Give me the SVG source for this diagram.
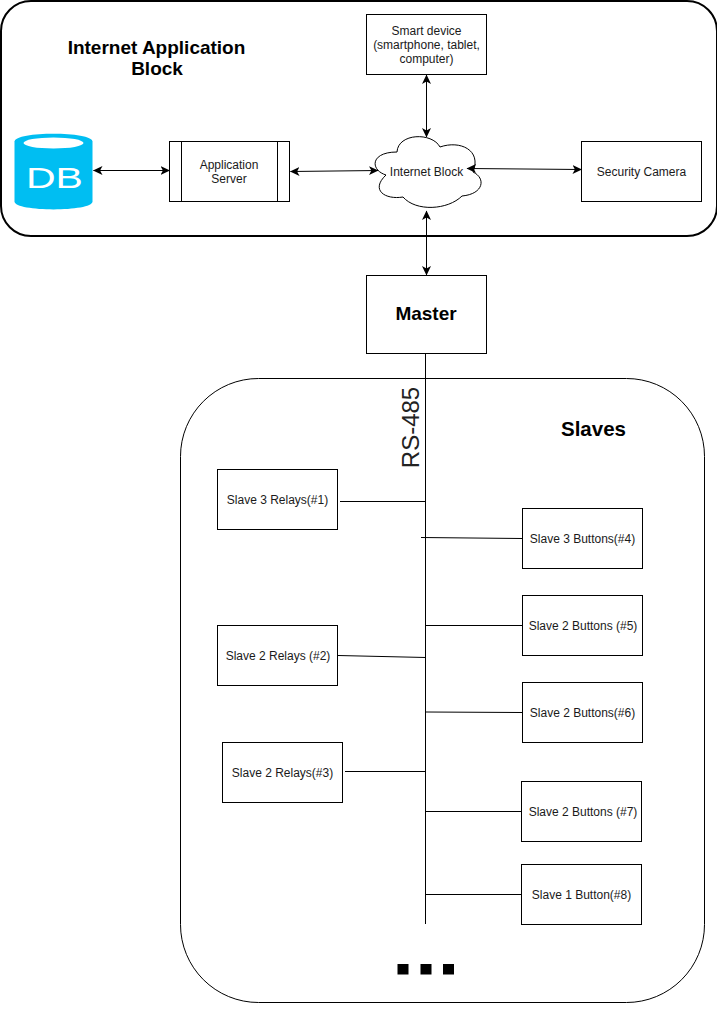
<svg xmlns="http://www.w3.org/2000/svg" width="717" height="1016" viewBox="0 0 717 1016">
<defs>
<marker id="a" viewBox="0 0 10 10" refX="9" refY="5" markerWidth="10" markerHeight="10" markerUnits="userSpaceOnUse" orient="auto-start-reverse"><path d="M0 0.5L9.5 5L0 9.5L2.4 5Z" fill="#000"/></marker>
</defs>
<style>
.box{fill:#fff;stroke:#000;stroke-width:1}
.t{font-family:"Liberation Sans",Arial,sans-serif;font-size:12px;fill:#1a1a1a;text-anchor:middle}
.b{font-family:"Liberation Sans",Arial,sans-serif;font-weight:bold;fill:#000;text-anchor:middle}
.l{fill:none;stroke:#000;stroke-width:1}
.d{fill:none;stroke:#000;stroke-width:1;marker-start:url(#a);marker-end:url(#a)}
</style>
<rect width="717" height="1016" fill="#fff"/>
<g id="internet-block-container"><rect x="1" y="1" width="716" height="235" rx="30" ry="30" fill="#fff" stroke="#000" stroke-width="2"/><text class="b" font-size="19" x="156.500" y="54">Internet Application</text><text class="b" font-size="19" x="157" y="75">Block</text></g>
<g id="slaves-container"><rect x="180.500" y="378.500" width="524" height="624" rx="78" ry="78" fill="#fff" stroke="#000"/><text class="b" font-size="20.500" x="593.500" y="436">Slaves</text></g>
<text class="t" transform="translate(419 427.500) rotate(-90)" style="font-size:24px;fill:#222">RS-485</text>
<g id="db"><path d="M14.500 141.500C14.500 131 92.500 131 92.500 141.500V201.500C92.500 212 14.500 212 14.500 201.500Z" fill="#00bef2"/><ellipse cx="53.500" cy="143" rx="30" ry="5.500" fill="#fff"/><text x="54.500" y="188" style="font-family:'Liberation Sans',Arial,sans-serif;font-size:29px;fill:#fff;text-anchor:middle" textLength="57" lengthAdjust="spacingAndGlyphs">DB</text></g>
<g id="app-server"><rect class="box" x="169.500" y="141.500" width="120" height="60"/><path class="l" d="M181.500 141.500V201.500M277.500 141.500V201.500"/><text class="t" x="229" y="169">Application</text><text class="t" x="229" y="183">Server</text></g>
<g id="smart-device"><rect class="box" x="366.500" y="14.500" width="120" height="60"/><text class="t" x="426.500" y="35">Smart device</text><text class="t" x="426.500" y="49">(smartphone, tablet,</text><text class="t" x="426.500" y="63">computer)</text></g>
<g id="internet-block"><path d="M386 175C370 170 370 152 397 152C398 133 432 132 440 147C460 140 482 150 473 172C486 178 484 194 462 196C448 210 416 212 403 197C385 200 370 190 386 175Z" fill="#fff" stroke="#000"/><text class="t" x="426.500" y="176">Internet Block</text></g>
<g id="security-camera"><rect class="box" x="581.500" y="141.500" width="120" height="60"/><text class="t" x="641.500" y="176">Security Camera</text></g>
<g id="master"><rect class="box" x="366.500" y="275.500" width="120" height="78"/><text class="b" font-size="19" x="426" y="320">Master</text></g>
<g id="slave1"><rect class="box" x="217.500" y="469.500" width="120" height="60"/><text class="t" x="277.500" y="504">Slave 3 Relays(#1)</text></g>
<g id="slave2"><rect class="box" x="217.500" y="625.500" width="120" height="60"/><text class="t" x="278" y="660">Slave 2 Relays (#2)</text></g>
<g id="slave3"><rect class="box" x="222.500" y="742.500" width="120" height="60"/><text class="t" x="282.500" y="777">Slave 2 Relays(#3)</text></g>
<g id="slave4"><rect class="box" x="522.500" y="508.500" width="120" height="60"/><text class="t" x="582.500" y="543">Slave 3 Buttons(#4)</text></g>
<g id="slave5"><rect class="box" x="522.500" y="595.500" width="120" height="60"/><text class="t" x="583" y="630">Slave 2 Buttons (#5)</text></g>
<g id="slave6"><rect class="box" x="522.500" y="682.500" width="120" height="60"/><text class="t" x="582.500" y="717">Slave 2 Buttons(#6)</text></g>
<g id="slave7"><rect class="box" x="521.500" y="781.500" width="120" height="60"/><text class="t" x="583" y="816">Slave 2 Buttons (#7)</text></g>
<g id="slave8"><rect class="box" x="521.500" y="864.500" width="120" height="60"/><text class="t" x="581.500" y="899">Slave 1 Button(#8)</text></g>
<g id="ellipsis"><rect x="397.500" y="964" width="11" height="10.500"/><rect x="420.500" y="964" width="11" height="10.500"/><rect x="443" y="964" width="11" height="10.500"/></g>
<g id="connectors">
<path class="d" d="M93.500 170.500H169.500"/>
<path class="d" d="M290.500 171.500L378 170.500"/>
<path class="d" d="M426.500 75V137"/>
<path class="d" d="M467 168.500L581.500 169.500"/>
<path class="d" d="M426.500 211V275"/>
<path class="l" d="M425.500 354V924"/>
<path class="l" d="M340 501.500H426"/>
<path class="l" d="M421 537.500L522 538.500"/>
<path class="l" d="M426 625.500H522"/>
<path class="l" d="M338 655.500L426 657.500"/>
<path class="l" d="M426 712L522 712.500"/>
<path class="l" d="M345 771.500H426"/>
<path class="l" d="M426 811.500H521"/>
<path class="l" d="M426 894.500H521"/>
</g>
</svg>
